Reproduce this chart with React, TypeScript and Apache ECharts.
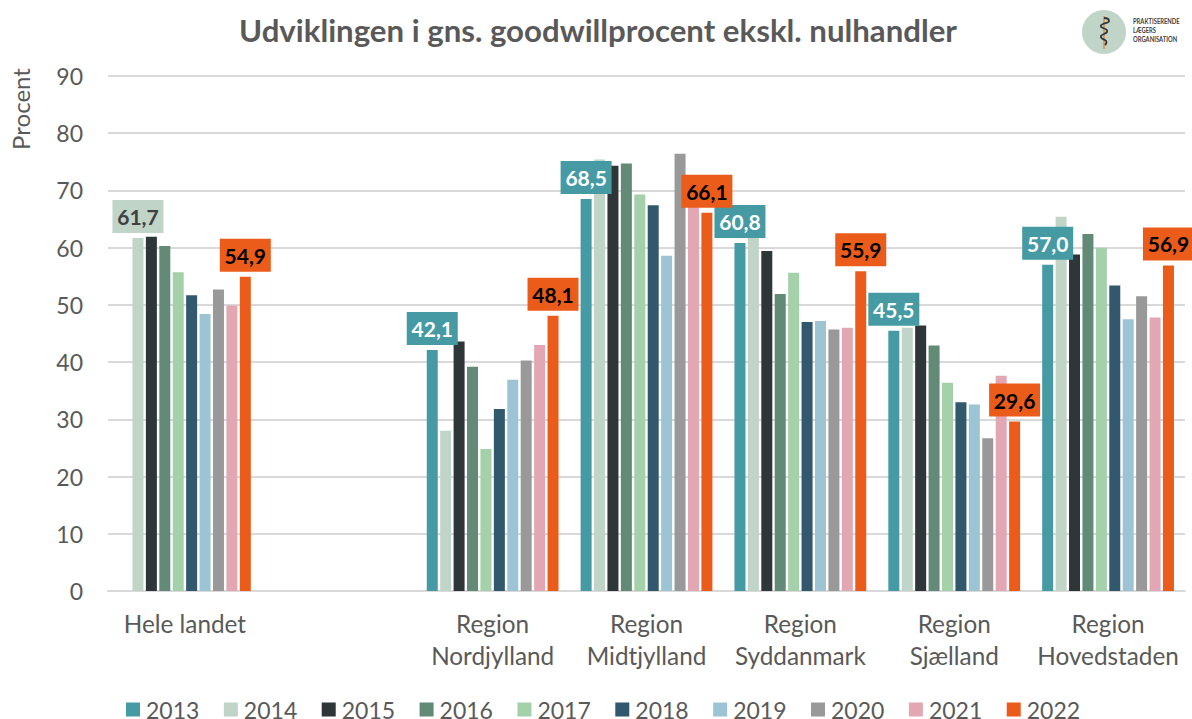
import React, { useEffect, useRef } from "react";
import * as echarts from "echarts";

const categories = ["Hele landet", "", "Region\nNordjylland", "Region\nMidtjylland", "Region\nSyddanmark", "Region\nSjælland", "Region\nHovedstaden"];
const years = ["2013", "2014", "2015", "2016", "2017", "2018", "2019", "2020", "2021", "2022"];
const colors = ["#459aa3", "#c0d4c8", "#2f3638", "#628a77", "#a4d0aa", "#31586c", "#9cc4d4", "#999999", "#e3a7b4", "#eb5c1a"];

const v2013 = [null, null, 42.1, 68.5, 60.8, 45.5, 57.0];
const v2014 = [61.7, null, 28.0, 75.4, 62.5, 46.0, 65.4];
const v2015 = [61.9, null, 43.6, 74.3, 59.4, 46.4, 58.8];
const v2016 = [60.3, null, 39.2, 74.7, 51.9, 42.9, 62.4];
const v2017 = [55.7, null, 24.8, 69.3, 55.6, 36.4, 60.0];
const v2018 = [51.7, null, 31.8, 67.4, 47.0, 33.0, 53.4];
const v2019 = [48.4, null, 36.9, 58.6, 47.2, 32.6, 47.5];
const v2020 = [52.7, null, 40.3, 76.4, 45.7, 26.7, 51.5];
const v2021 = [49.9, null, 43.0, 68.0, 46.0, 37.6, 47.8];
const v2022 = [54.9, null, 48.1, 66.1, 55.9, 29.6, 56.9];
const values = [v2013, v2014, v2015, v2016, v2017, v2018, v2019, v2020, v2021, v2022];

const FONT = "Lato";
const GREY = "#595959";

const SNAKE =
  "M 0 0 C 4 0 5 1 5 3 C 5 5 1 5 -1 6 C -4 7 -4 9 -1 10 C 2 11 4 12 3 14 C 2 16 -2 16 -3 18 C -4 20 -1 21 1 22 C 3 23 3 25 1 27";
echarts.graphic.registerShape("aesculapSnake", echarts.graphic.extendPath(SNAKE, {}));

function labelFor(yearIndex: number, catIndex: number) {
  const base = {
    show: true,
    position: "top",
    distance: 5,
    width: 51,
    height: 33,
    lineHeight: 33,
    align: "center",
    fontFamily: FONT,
    fontWeight: "bold",
    fontSize: 21,
    formatter: (p: any) => Number(p.value).toFixed(1).replace(".", ","),
  };
  if (yearIndex === 0) return { ...base, color: "#ffffff", backgroundColor: colors[0] };
  if (yearIndex === 1 && catIndex === 0) return { ...base, color: "#404040", backgroundColor: colors[1] };
  if (yearIndex === 9) return { ...base, color: "#000000", backgroundColor: colors[9] };
  return { show: false };
}

export default function App() {
  const ref = useRef<HTMLDivElement>(null);
  useEffect(() => {
    const chart = echarts.init(ref.current!, null, { renderer: "svg" });
    chart.setOption({
      animation: false,
      backgroundColor: "#ffffff",
      color: colors,
      title: {
        text: "Udviklingen i gns. goodwillprocent ekskl. nulhandler",
        left: 593,
        top: 9,
        textAlign: "center",
        textStyle: { fontFamily: FONT, fontWeight: "bold", fontSize: 31.2, color: GREY },
      },
      grid: { left: 108, right: 7, top: 76, bottom: 128 },
      legend: {
        left: 121,
        top: 693,
        padding: [5, 5, 0, 5],
        itemWidth: 14,
        itemHeight: 14,
        itemGap: 24.5,
        icon: "rect",
        data: years,
        textStyle: { fontFamily: FONT, fontSize: 23, lineHeight: 16, height: 16, color: GREY, padding: [0, 0, 0, 1] },
      },
      xAxis: {
        type: "category",
        data: categories,
        axisLine: { lineStyle: { color: "#d9d9d9", width: 2 } },
        axisTick: { show: false },
        axisLabel: { interval: 0, fontFamily: FONT, fontSize: 24.3, color: GREY, lineHeight: 32, margin: 16, verticalAlign: "top" },
      },
      yAxis: {
        type: "value",
        min: 0,
        max: 90,
        interval: 10,
        axisLine: { show: false },
        axisTick: { show: false },
        splitLine: { lineStyle: { color: "#d9d9d9", width: 2 } },
        axisLabel: { fontFamily: FONT, fontSize: 23, color: GREY, margin: 25 },
      },
      series: years.map((y, i) => ({
        name: y,
        type: "bar",
        barWidth: 11,
        barGap: "22%",
        itemStyle: { color: colors[i] },
        data: values[i].map((v, c) => ({ value: v, label: labelFor(i, c) })),
      })),
      graphic: [
        {
          type: "text",
          x: 20,
          y: 109,
          rotation: Math.PI / 2,
          style: { text: "Procent", font: `24px ${FONT}`, fill: GREY, textAlign: "center", textVerticalAlign: "middle" },
        },
        { type: "circle", shape: { cx: 1104, cy: 32, r: 22 }, style: { fill: "#c0d4c8" } },
        { type: "line", shape: { x1: 1104, y1: 16, x2: 1104, y2: 49 }, style: { stroke: "#e08a4a", lineWidth: 1.5 } },
        { type: "aesculapSnake", x: 1104, y: 18, style: { fill: "none", stroke: "#2f3638", lineWidth: 1.8 } },
        { type: "text", x: 1133, y: 21, scaleX: 0.78, style: { text: "PRAKTISERENDE", font: `bold 7.5px ${FONT}`, fill: "#404040", textVerticalAlign: "middle" } },
        { type: "text", x: 1133, y: 30, scaleX: 0.78, style: { text: "LÆGERS", font: `bold 7.5px ${FONT}`, fill: "#404040", textVerticalAlign: "middle" } },
        { type: "text", x: 1133, y: 39, scaleX: 0.78, style: { text: "ORGANISATION", font: `bold 7.5px ${FONT}`, fill: "#404040", textVerticalAlign: "middle" } },
      ],
    });
    return () => chart.dispose();
  }, []);
  return <div ref={ref} style={{ position: "fixed", left: 0, top: 0, width: 1192, height: 719 }} />;
}
